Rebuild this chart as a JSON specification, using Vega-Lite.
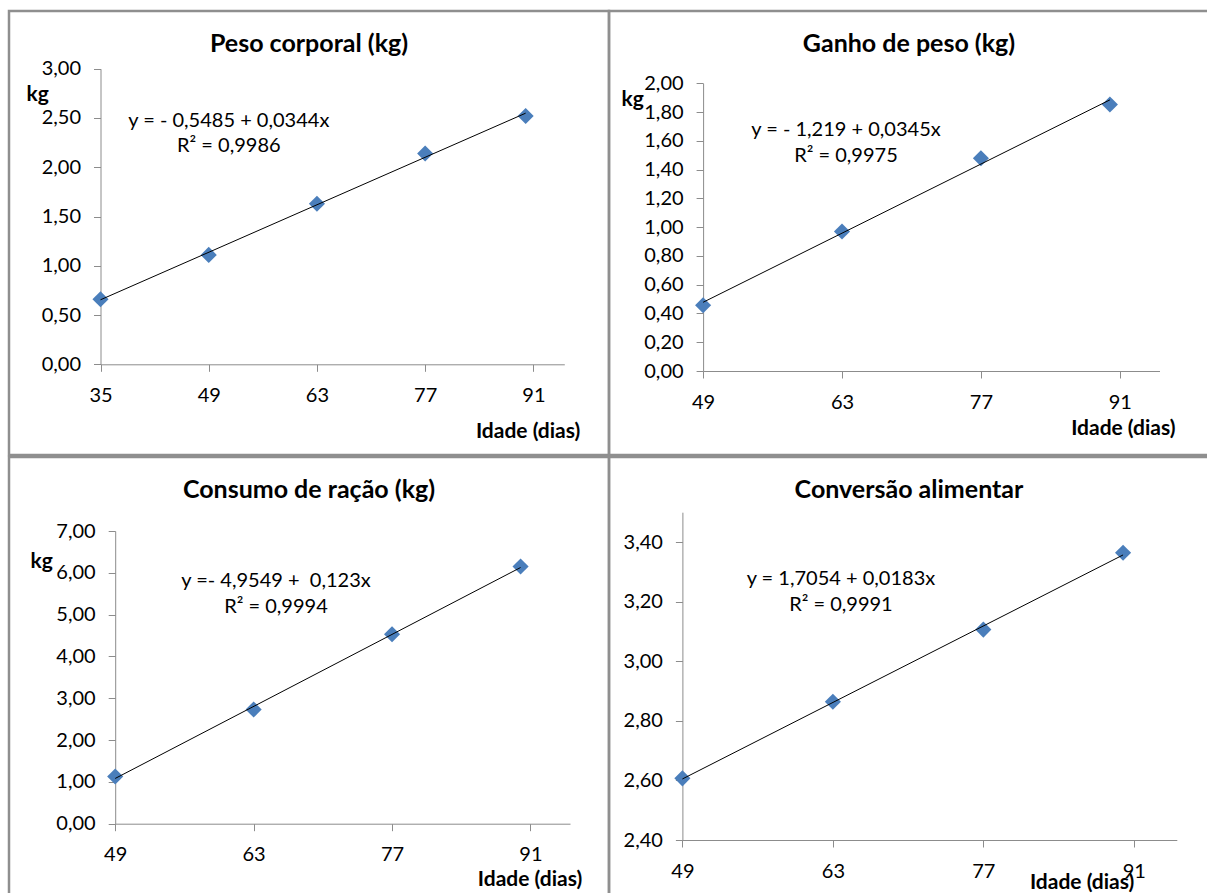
{
  "$schema": "https://vega.github.io/schema/vega-lite/v6.json",
  "padding": {"left": 7, "top": 9, "right": 0, "bottom": 0},
  "spacing": -4.5,
  "config": {
    "background": "white",
    "view": {"stroke": "#8f8f8f", "strokeWidth": 2.5},
    "axis": {
      "grid": false,
      "domainColor": "#8c8c8c",
      "tickColor": "#8c8c8c",
      "tickSize": 7,
      "labelFont": "Lato",
      "labelFontSize": 20,
      "labelColor": "#000000",
      "labelFlush": false,
      "labelOverlap": false,
      "titleFont": "Lato",
      "titleFontSize": 21,
      "titleFontWeight": "bold",
      "titleColor": "#000000"
    },
    "axisX": {"labelPadding": 14},
    "axisY": {"labelPadding": 13},
    "title": {"font": "Lato", "fontSize": 25, "fontWeight": "bold", "color": "#000000", "frame": "group", "anchor": "middle", "baseline": "middle", "offset": -46},
    "text": {"font": "Lato", "fontSize": 20, "fontWeight": "normal", "color": "#000000"}
  },
  "vconcat": [
    {
      "spacing": 0,
      "bounds": "flush",
      "hconcat": [
        {
          "width": 600,
          "height": 444,
          "title": "Peso corporal (kg)",
          "data": {"values": [
            {"idade": 35, "valor": 0.66},
            {"idade": 49, "valor": 1.11},
            {"idade": 63, "valor": 1.63},
            {"idade": 77, "valor": 2.14},
            {"idade": 90, "valor": 2.52}
          ]},
          "encoding": {
            "x": {"field": "idade", "type": "quantitative",
              "scale": {"domain": [35, 95], "range": [91.5, 555.3], "nice": false, "zero": false},
              "axis": {"orient": "bottom", "offset": -90.7, "values": [35, 49, 63, 77, 91], "title": "Idade (dias)", "titleX": 518.6, "titleY": 66.7, "titleAlign": "center", "titleBaseline": "middle"}},
            "y": {"field": "valor", "type": "quantitative",
              "scale": {"domain": [0, 3], "range": [353.3, 57.7], "nice": false, "zero": false},
              "axis": {"orient": "left", "offset": -91.5, "values": [0, 0.5, 1, 1.5, 2, 2.5, 3], "labelExpr": "replace(format(datum.value, '.2f'), '.', ',')", "title": "kg", "titleAngle": 0, "titleX": -74.5, "titleY": 83, "titleAlign": "left", "titleBaseline": "middle"}}
          },
          "layer": [
            {"mark": {"type": "point", "shape": "diamond", "filled": true, "size": 260, "color": "#4a7ebb", "opacity": 1}},
            {"mark": {"type": "line", "color": "#000000", "strokeWidth": 1},
             "transform": [{"regression": "valor", "on": "idade", "extent": [35, 90]}]},
            {"transform": [{"filter": "datum.idade == 35"}],
             "mark": {"type": "text", "text": ["y = - 0,5485 + 0,0344x", "R² = 0,9986"], "align": "center", "baseline": "middle", "lineHeight": 25, "fontWeight": "normal"},
             "encoding": {"x": {"datum": 51.6}, "y": {"datum": 2.469}}}
          ]
        },
        {
          "width": 600,
          "height": 444,
          "title": "Ganho de peso (kg)",
          "data": {"values": [
            {"idade": 49, "valor": 0.457},
            {"idade": 63, "valor": 0.97},
            {"idade": 77, "valor": 1.479},
            {"idade": 90, "valor": 1.853}
          ]},
          "encoding": {
            "x": {"field": "idade", "type": "quantitative",
              "scale": {"domain": [49, 95], "range": [94.1, 550.5], "nice": false, "zero": false},
              "axis": {"orient": "bottom", "offset": -84, "values": [49, 63, 77, 91], "title": "Idade (dias)", "titleX": 513.8, "titleY": 57.7, "titleAlign": "center", "titleBaseline": "middle"}},
            "y": {"field": "valor", "type": "quantitative",
              "scale": {"domain": [0, 2], "range": [360, 72.3], "nice": false, "zero": false},
              "axis": {"orient": "left", "offset": -94.1, "values": [0, 0.2, 0.4, 0.6, 0.8, 1, 1.2, 1.4, 1.6, 1.8, 2], "labelExpr": "replace(format(datum.value, '.2f'), '.', ',')", "title": "kg", "titleAngle": 0, "titleX": -82.1, "titleY": 88, "titleAlign": "left", "titleBaseline": "middle"}}
          },
          "layer": [
            {"mark": {"type": "point", "shape": "diamond", "filled": true, "size": 260, "color": "#4a7ebb", "opacity": 1}},
            {"mark": {"type": "line", "color": "#000000", "strokeWidth": 1},
             "transform": [{"regression": "valor", "on": "idade", "extent": [49, 90]}]},
            {"transform": [{"filter": "datum.idade == 49"}],
             "mark": {"type": "text", "text": ["y = - 1,219 + 0,0345x", "R² = 0,9975"], "align": "center", "baseline": "middle", "lineHeight": 26, "fontWeight": "normal"},
             "encoding": {"x": {"datum": 63.4}, "y": {"datum": 1.675}}}
          ]
        }
      ]
    },
    {
      "spacing": 0,
      "bounds": "flush",
      "hconcat": [
        {
          "width": 600,
          "height": 444,
          "title": "Consumo de ração (kg)",
          "data": {"values": [
            {"idade": 49, "valor": 1.13},
            {"idade": 63, "valor": 2.73},
            {"idade": 77, "valor": 4.53},
            {"idade": 90, "valor": 6.15}
          ]},
          "encoding": {
            "x": {"field": "idade", "type": "quantitative",
              "scale": {"domain": [49, 95], "range": [106.2, 561], "nice": false, "zero": false},
              "axis": {"orient": "bottom", "offset": -77.3, "values": [49, 63, 77, 91], "title": "Idade (dias)", "titleX": 520.5, "titleY": 55.6, "titleAlign": "center", "titleBaseline": "middle"}},
            "y": {"field": "valor", "type": "quantitative",
              "scale": {"domain": [0, 7], "range": [366.7, 74], "nice": false, "zero": false},
              "axis": {"orient": "left", "offset": -106.2, "values": [0, 1, 2, 3, 4, 5, 6, 7], "labelExpr": "replace(format(datum.value, '.2f'), '.', ',')", "title": "kg", "titleAngle": 0, "titleX": -85.2, "titleY": 104, "titleAlign": "left", "titleBaseline": "middle"}}
          },
          "layer": [
            {"mark": {"type": "point", "shape": "diamond", "filled": true, "size": 260, "color": "#4a7ebb", "opacity": 1}},
            {"mark": {"type": "line", "color": "#000000", "strokeWidth": 1},
             "transform": [{"regression": "valor", "on": "idade", "extent": [49, 90]}]},
            {"transform": [{"filter": "datum.idade == 49"}],
             "mark": {"type": "text", "text": ["y =- 4,9549 + \u00a00,123x", "R² = 0,9994"], "align": "center", "baseline": "middle", "lineHeight": 26, "fontWeight": "normal"},
             "encoding": {"x": {"datum": 65.26}, "y": {"datum": 5.8}}}
          ]
        },
        {
          "width": 600,
          "height": 444,
          "title": "Conversão alimentar",
          "data": {"values": [
            {"idade": 49, "valor": 2.607},
            {"idade": 63, "valor": 2.864},
            {"idade": 77, "valor": 3.106},
            {"idade": 90, "valor": 3.364}
          ]},
          "encoding": {
            "x": {"field": "idade", "type": "quantitative",
              "scale": {"domain": [49, 95], "range": [73.4, 567.8], "nice": false, "zero": false},
              "axis": {"orient": "bottom", "offset": -61, "values": [49, 63, 77, 91], "title": "Idade (dias)", "titleX": 472.6, "titleY": 42, "titleAlign": "center", "titleBaseline": "middle"}},
            "y": {"field": "valor", "type": "quantitative",
              "scale": {"domain": [2.4, 3.5], "range": [383, 55.2], "nice": false, "zero": false},
              "axis": {"orient": "left", "offset": -73.4, "values": [2.4, 2.6, 2.8, 3.0, 3.2, 3.4], "labelExpr": "replace(format(datum.value, '.2f'), '.', ',')", "title": null}}
          },
          "layer": [
            {"mark": {"type": "point", "shape": "diamond", "filled": true, "size": 260, "color": "#4a7ebb", "opacity": 1}},
            {"mark": {"type": "line", "color": "#000000", "strokeWidth": 1},
             "transform": [{"regression": "valor", "on": "idade", "extent": [49, 90]}]},
            {"transform": [{"filter": "datum.idade == 49"}],
             "mark": {"type": "text", "text": ["y = 1,7054 + 0,0183x", "R² = 0,9991"], "align": "center", "baseline": "middle", "lineHeight": 26, "fontWeight": "normal"},
             "encoding": {"x": {"datum": 63.75}, "y": {"datum": 3.275}}}
          ]
        }
      ]
    }
  ]
}
